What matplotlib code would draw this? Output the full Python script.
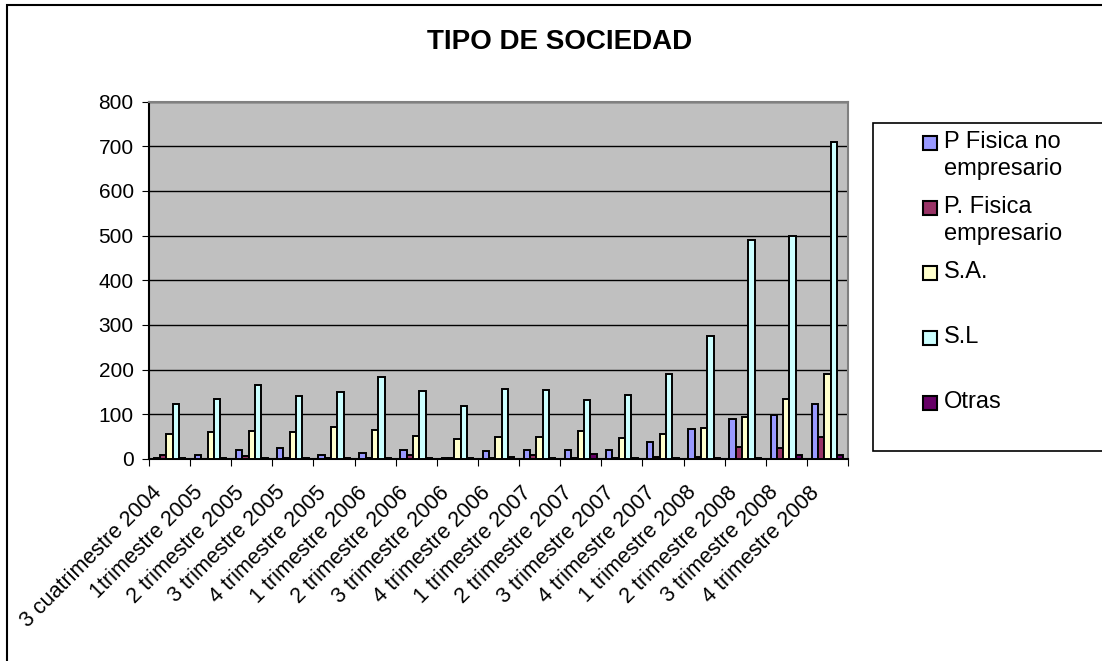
import numpy as np
import matplotlib
matplotlib.use("Agg")
import matplotlib.pyplot as plt
import matplotlib.transforms as mtransforms
from matplotlib.patches import Rectangle

plt.rcParams["font.family"] = ["Liberation Sans", "DejaVu Sans"]

# datos
periodos = ["3 cuatrimestre 2004", "1trimestre 2005", "2 trimestre 2005", "3 trimestre 2005",
            "4 trimestre 2005", "1 trimestre 2006", "2 trimestre 2006", "3 trimestre 2006",
            "4 trimestre 2006", "1 trimestre 2007", "2 trimestre 2007", "3 trimestre 2007",
            "4 trimestre 2007", "1 trimestre 2008", "2 trimestre 2008", "3 trimestre 2008",
            "4 trimestre 2008"]
pf_no_empresario = [3, 8, 20, 25, 8, 14, 20, 3, 17, 20, 20, 20, 38, 67, 89, 98, 123]
pf_empresario = [10, 1, 6, 2, 3, 2, 8, 2, 2, 8, 3, 2, 4, 5, 26, 24, 50]
sa = [55, 60, 62, 60, 71, 66, 52, 44, 50, 50, 63, 46, 57, 70, 93, 135, 190]
sl = [122, 134, 166, 142, 149, 183, 152, 118, 157, 155, 132, 143, 190, 275, 490, 500, 710]
otras = [2, 2, 2, 2, 2, 3, 3, 2, 4, 3, 12, 3, 3, 3, 3, 10, 10]

series = [pf_no_empresario, pf_empresario, sa, sl, otras]
nombres = ["P Fisica no\nempresario", "P. Fisica\nempresario", "S.A.", "S.L", "Otras"]
colores = ["#9999FF", "#993366", "#FFFFCC", "#CCFFFF", "#660066"]

W, H = 1102, 661
fig = plt.figure(figsize=(W / 100, H / 100), dpi=100)

def fx(x):
    return x / W

def fy(y):
    return 1 - y / H

# marco exterior del grafico
fig.patches.append(Rectangle((fx(7), fy(H + 20)), fx(W + 40), fy(5) - fy(H + 20),
                             transform=fig.transFigure, fill=False, edgecolor="black",
                             linewidth=1.5))

ax = fig.add_axes([fx(149), fy(459), fx(848) - fx(149), fy(101.5) - fy(459)])
ax.set_facecolor("#C0C0C0")

x = np.arange(len(periodos))
ancho = 1 / 6.5
for i, (vals, col) in enumerate(zip(series, colores)):
    ax.bar(x + (i - 2) * ancho, vals, width=ancho, color=col, edgecolor="black",
           linewidth=1.4, zorder=3)

ax.set_xlim(-0.5, len(periodos) - 0.5)
ax.set_ylim(0, 800)
ax.set_yticks(np.arange(0, 801, 100))
ax.yaxis.grid(True, color="black", linewidth=1)
ax.set_axisbelow(True)
ax.tick_params(axis="y", labelsize=15, length=5, direction="out", pad=6)

ax.set_xticks(np.arange(len(periodos) + 1) - 0.5)
ax.set_xticklabels([])
ax.set_xticks(x, minor=True)
ax.set_xticklabels(periodos, minor=True, rotation=45, ha="right", va="center",
                   rotation_mode="anchor", fontsize=15.5)
ax.tick_params(axis="x", which="major", length=5, direction="out")
ax.tick_params(axis="x", which="minor", length=0, pad=22)
desplaza = mtransforms.ScaledTranslation(-11 / 100, 0, fig.dpi_scale_trans)
for lab in ax.get_xticklabels(minor=True):
    lab.set_transform(lab.get_transform() + desplaza)

ax.spines["left"].set_color("black")
ax.spines["bottom"].set_color("black")
ax.spines["top"].set_color("#808080")
ax.spines["right"].set_color("#808080")
for s in ax.spines.values():
    s.set_linewidth(1.5)

fig.text(fx(560), fy(42), "TIPO DE SOCIEDAD", ha="center", va="center",
         fontsize=20, fontweight="bold")

# leyenda
fig.patches.append(Rectangle((fx(873), fy(451)), fx(W + 40) - fx(873), fy(123) - fy(451),
                             transform=fig.transFigure, facecolor="white",
                             edgecolor="black", linewidth=1.2))
for k, (nom, col) in enumerate(zip(nombres, colores)):
    yc = 143 + 65 * k
    fig.patches.append(Rectangle((fx(923), fy(yc + 7)), fx(14), fy(0) - fy(14),
                                 transform=fig.transFigure, facecolor=col,
                                 edgecolor="black", linewidth=1.5))
    fig.text(fx(944), fy(yc - 12), nom, ha="left", va="top", fontsize=17,
             linespacing=1.3)

fig.savefig("out.png", dpi=100)
